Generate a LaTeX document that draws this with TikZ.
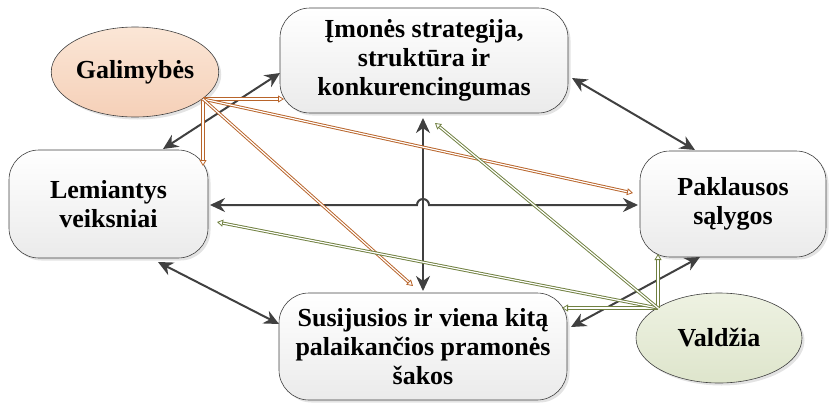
\documentclass[tikz,border=0pt]{standalone}
\usepackage{fontspec}
\setmainfont{Liberation Serif}[BoldFont={Liberation Serif Bold}]
\newfontfamily\boxfont{Liberation Serif Bold}
\usetikzlibrary{arrows.meta,shapes.geometric,shadows}
\definecolor{darkarr}{RGB}{64,64,64}
\definecolor{orarr}{RGB}{184,100,42}
\definecolor{grarr}{RGB}{112,128,64}
\definecolor{galtop}{RGB}{251,230,214}
\definecolor{galbot}{RGB}{245,208,184}
\definecolor{valtop}{RGB}{238,242,226}
\definecolor{valbot}{RGB}{222,229,204}
\begin{document}
\begin{tikzpicture}[x=1pt,y=-1pt,
  txt/.style={font=\boxfont\fontsize{26}{29}\selectfont, align=center, text=black},
  factorbox/.style={txt, draw=black!75, line width=0.6pt, rectangle, rounded corners=30pt,
    top color=white, bottom color=black!8, inner sep=0pt,
    drop shadow={shadow xshift=2.5pt, shadow yshift=-2.5pt, opacity=0.22}},
  oval/.style={txt, draw=black!75, line width=0.6pt, ellipse, inner sep=0pt,
    drop shadow={shadow xshift=2.5pt, shadow yshift=-2.5pt, opacity=0.22}},
  mainarr/.style={draw=darkarr, line width=2pt, {Stealth[length=15pt,width=14pt]}-{Stealth[length=15pt,width=14pt]}},
  dbl/.style={double=white, double distance=1.2pt, line width=0.95pt},
  oarr/.style={draw=orarr, dbl, -{Triangle[open, fill=white, length=6pt, width=7pt, line width=0.8pt]}},
  garr/.style={draw=grarr, dbl, -{Triangle[open, fill=white, length=6pt, width=7pt, line width=0.8pt]}}
]
\useasboundingbox (0,0) rectangle (833,402);

% nodes
\node[factorbox, minimum width=288pt, minimum height=105pt] (top) at (424,60.5)
  {Įmonės strategija,\\ struktūra ir\\ konkurencingumas};
\node[factorbox, minimum width=199pt, minimum height=108pt] (lem) at (108.5,204)
  {Lemiantys\\ veiksniai};
\node[factorbox, minimum width=186pt, minimum height=106pt] (pak) at (733,204)
  {Paklausos\\ sąlygos};
\node[factorbox, minimum width=288pt, minimum height=107pt] (sus) at (423,346.5)
  {Susijusios ir viena kitą\\ palaikančios pramonės\\ šakos};
\node[oval, minimum width=166pt, minimum height=90pt, top color=galtop, bottom color=galbot] (gal) at (135,72)
  {Galimybės};
\node[oval, minimum width=166pt, minimum height=90pt, top color=valtop, bottom color=valbot] (val) at (719,338)
  {Valdžia};

% connector end points
\coordinate (tL) at (280,73);   \coordinate (lT) at (163,149);
\coordinate (tR) at (572,78);   \coordinate (pT) at (695,150);
\coordinate (lR) at (210,205);  \coordinate (pL) at (638,205);
\coordinate (tB) at (423,118);  \coordinate (sT) at (423,291);
\coordinate (lB) at (158,262);  \coordinate (sL) at (279,324);
\coordinate (sR) at (571,327);  \coordinate (pB) at (700,257);

% dark double-headed arrows
\draw[mainarr] (tL) -- (lT);
\draw[mainarr] (tR) -- (pT);
\draw[mainarr] (lR) -- (417,205) arc[start angle=180, end angle=0, radius=6pt] -- (pL);
\draw[mainarr] (tB) -- (sT);
\draw[mainarr] (lB) -- (sL);
\draw[mainarr] (sR) -- (pB);

% Galimybes arrows
\coordinate (gO) at (203,99);
\coordinate (gT) at (284,99);
\coordinate (gL) at (203,166);
\coordinate (gP) at (633,193);
\coordinate (gS) at (413,286);
\draw[oarr] (gO) -- (gT);
\draw[oarr] (gO) -- (gL);
\draw[oarr] (gO) -- (gP);
\draw[oarr] (gO) -- (gS);

% Valdzia arrows
\coordinate (vO) at (658,308);
\coordinate (vP) at (658,254);
\coordinate (vS) at (562,308);
\coordinate (vL) at (217,222);
\coordinate (vT) at (435,123);
\draw[garr] (vO) -- (vP);
\draw[garr] (vO) -- (vS);
\draw[garr] (vO) -- (vL);
\draw[garr] (vO) -- (vT);
\end{tikzpicture}
\end{document}
